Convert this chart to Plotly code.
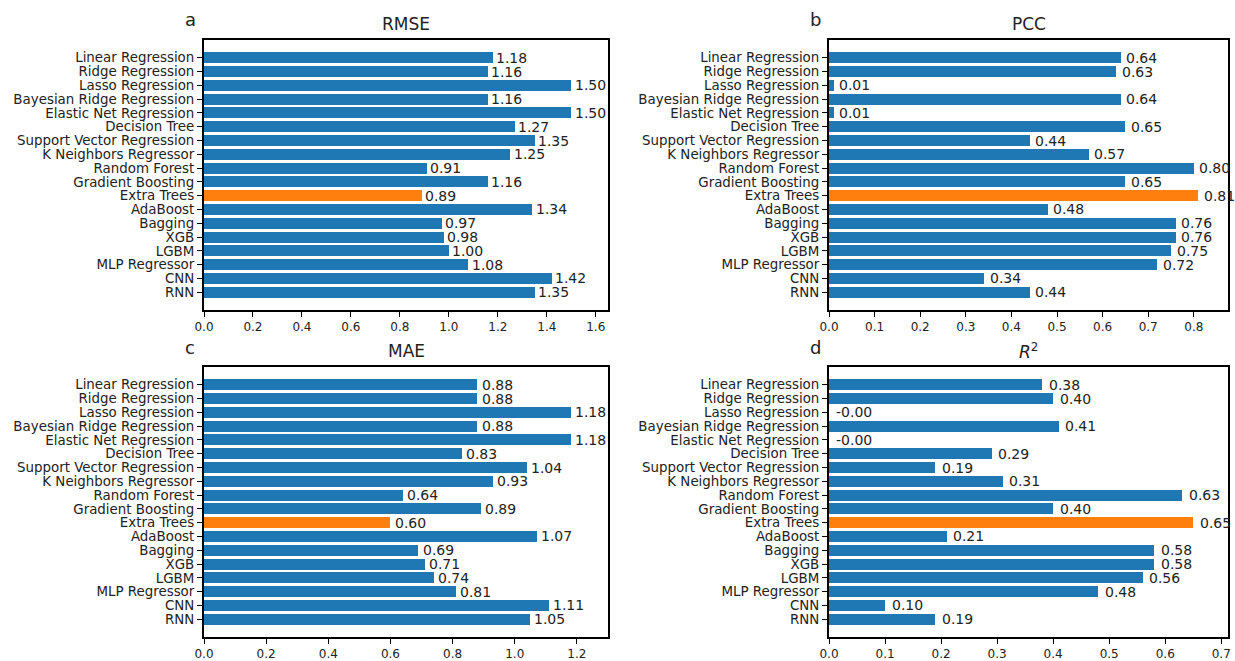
import plotly.graph_objects as go

models = [
    "Linear Regression", "Ridge Regression", "Lasso Regression",
    "Bayesian Ridge Regression", "Elastic Net Regression", "Decision Tree",
    "Support Vector Regression", "K Neighbors Regressor", "Random Forest",
    "Gradient Boosting", "Extra Trees", "AdaBoost", "Bagging", "XGB",
    "LGBM", "MLP Regressor", "CNN", "RNN",
]

rmse = [1.18, 1.16, 1.50, 1.16, 1.50, 1.27, 1.35, 1.25, 0.91, 1.16,
        0.89, 1.34, 0.97, 0.98, 1.00, 1.08, 1.42, 1.35]
pcc = [0.64, 0.63, 0.01, 0.64, 0.01, 0.65, 0.44, 0.57, 0.80, 0.65,
       0.81, 0.48, 0.76, 0.76, 0.75, 0.72, 0.34, 0.44]
mae = [0.88, 0.88, 1.18, 0.88, 1.18, 0.83, 1.04, 0.93, 0.64, 0.89,
       0.60, 1.07, 0.69, 0.71, 0.74, 0.81, 1.11, 1.05]
r2 = [0.38, 0.40, -0.001, 0.41, -0.001, 0.29, 0.19, 0.31, 0.63, 0.40,
      0.65, 0.21, 0.58, 0.58, 0.56, 0.48, 0.10, 0.19]

highlight = "Extra Trees"

W, H = 1235, 661
FONT = "DejaVu Sans"
BLUE = "#1f77b4"
ORANGE = "#ff7f0e"

# panel pixel boxes: (left, right, top, bottom)
panels = [
    dict(key="", title="RMSE", letter="a", values=rmse, box=(204, 608, 40, 310),
         xmax=1.65, dtick=0.2),
    dict(key="2", title="PCC", letter="b", values=pcc, box=(829, 1228, 40, 310),
         xmax=0.875, dtick=0.1),
    dict(key="3", title="MAE", letter="c", values=mae, box=(204, 608, 367, 637),
         xmax=1.30, dtick=0.2),
    dict(key="4", title="<i>R</i><sup>2</sup>", letter="d", values=r2,
         box=(829, 1228, 367, 637), xmax=0.712, dtick=0.1),
]

fig = go.Figure()
annotations = []
layout_axes = {}

for p in panels:
    k = p["key"]
    left, right, top, bottom = p["box"]
    xd = [left / W, right / W]
    yd = [1 - bottom / H, 1 - top / H]
    colors = [ORANGE if m == highlight else BLUE for m in models]
    fig.add_trace(go.Bar(
        y=models, x=p["values"], orientation="h", width=0.8,
        marker=dict(color=colors, line=dict(width=0)),
        xaxis="x" + k, yaxis="y" + k, showlegend=False, hoverinfo="x+y",
    ))
    layout_axes["xaxis" + k] = dict(
        domain=xd, anchor="y" + k, range=[0, p["xmax"]], dtick=p["dtick"],
        tick0=0, tickformat=".1f", showgrid=False, zeroline=False,
        showline=True, mirror=True, linecolor="black", linewidth=2,
        ticks="outside", ticklen=5, tickwidth=1, tickcolor="black",
        tickfont=dict(family=FONT, size=12, color="#222"),
        automargin=False,
    )
    layout_axes["yaxis" + k] = dict(
        domain=yd, anchor="x" + k, type="category",
        categoryorder="array", categoryarray=models,
        tickmode="array", tickvals=models, ticktext=models,
        range=[len(models) - 1 + 1.29, -1.29], showgrid=False, zeroline=False,
        showline=True, mirror=True, linecolor="black", linewidth=2,
        ticks="outside", ticklen=5, tickwidth=1, tickcolor="black",
        tickfont=dict(family=FONT, size=13.4, color="#222"),
        automargin=False,
    )
    # value labels next to each bar
    for m, v in zip(models, p["values"]):
        annotations.append(dict(
            x=max(v, 0) + 0.01, y=m, xref="x" + k, yref="y" + k,
            text=f"{v:.2f}", showarrow=False, xanchor="left", yanchor="middle",
            xshift=-1, font=dict(family=FONT, size=14, color="#222"),
        ))
    # panel title and letter
    annotations.append(dict(
        x=(left + right) / 2 / W, y=1 - (top - 16) / H, xref="paper", yref="paper",
        text=p["title"], showarrow=False, xanchor="center", yanchor="middle",
        font=dict(family=FONT, size=17, color="#222"),
    ))
    annotations.append(dict(
        x=(left - 14) / W, y=1 - (top - 20) / H, xref="paper", yref="paper",
        text=p["letter"], showarrow=False, xanchor="center", yanchor="middle",
        font=dict(family=FONT, size=18, color="#222"),
    ))

fig.update_layout(
    width=W, height=H, margin=dict(l=0, r=0, t=0, b=0),
    paper_bgcolor="white", plot_bgcolor="white",
    bargap=0, annotations=annotations, **layout_axes,
)

fig.write_html("out.html")
